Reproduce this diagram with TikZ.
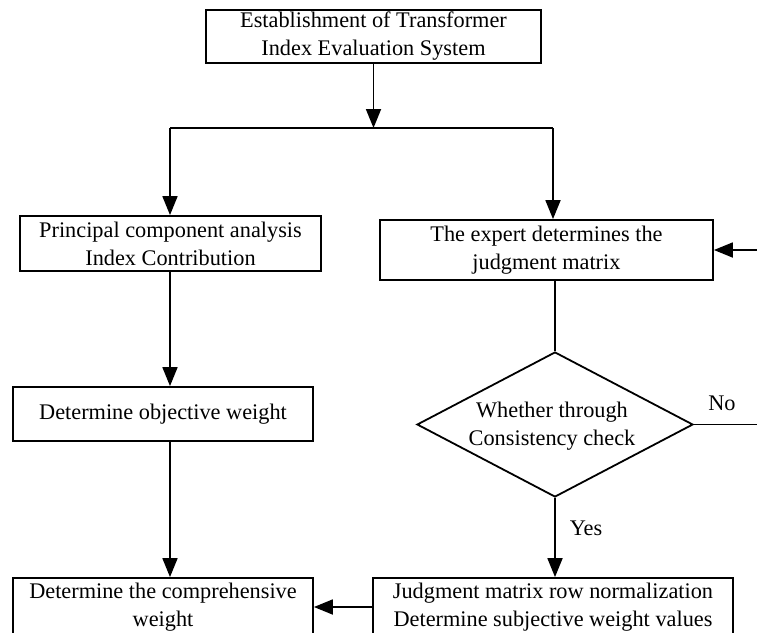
\documentclass[tikz,border=0pt]{standalone}
\usepackage{fontspec}
\setmainfont{Liberation Serif}
\usetikzlibrary{shapes.geometric,arrows.meta}
\begin{document}
\begin{tikzpicture}[x=1pt,y=-1pt,
  box/.style={draw,line width=1.8pt,inner sep=0pt,align=center,font=\fontsize{22.3}{28}\selectfont},
  txt/.style={inner sep=0pt,align=center,font=\fontsize{22.3}{28}\selectfont},
  conn/.style={line width=1.8pt},
  arr/.style={line width=1.8pt,-{Triangle[length=19pt,width=15pt]}}]
\clip (0,0) rectangle (757,632);
\fill[white] (0,0) rectangle (757,632);
\node[box,minimum width=335pt,minimum height=53pt] (top) at (373.5,36.5) {Establishment of Transformer\\Index Evaluation System};
\node[box,minimum width=301pt,minimum height=55pt] (pca) at (170.5,243.5) {Principal component analysis\\Index Contribution};
\node[box,minimum width=333pt,minimum height=60pt] (expert) at (546.5,250) {The expert determines the\\judgment matrix};
\node[box,minimum width=300pt,minimum height=54pt] (obj) at (163,414) {Determine objective weight};
\node[box,minimum width=300pt,minimum height=58pt] (comp) at (163,607) {Determine the comprehensive\\weight};
\node[box,minimum width=360pt,minimum height=58pt] (judg) at (553,607) {Judgment matrix row normalization\\Determine subjective weight values};
\node[draw,diamond,line width=1.8pt,inner sep=0pt,minimum width=276pt,minimum height=145pt] (dia) at (555,424.5) {};
\node[txt] (diatext) at (552,426) {Whether through\\Consistency check};
\node[txt] (no) at (722,403) {No};
\node[txt] (yes) at (586,528) {Yes};
\coordinate (split) at (373.5,128);
\coordinate (lft) at (170,128);
\coordinate (rgt) at (553,128);
\coordinate (loop) at (790,424.5);
\draw[arr] (top.south) -- (split);
\draw[conn] (lft) -- (rgt);
\draw[arr] (lft) -- (lft |- pca.north);
\draw[arr] (rgt) -- (rgt |- expert.north);
\draw[arr] (lft |- pca.south) -- (lft |- obj.north);
\draw[arr] (lft |- obj.south) -- (lft |- comp.north);
\draw[conn] (dia.north |- expert.south) -- (dia.north);
\draw[arr] (dia.south) -- (dia.south |- judg.north);
\draw[arr] (judg.west) -- (comp.east);
\draw[arr] (dia.east) -- (loop) |- (expert.east);
\end{tikzpicture}
\end{document}
